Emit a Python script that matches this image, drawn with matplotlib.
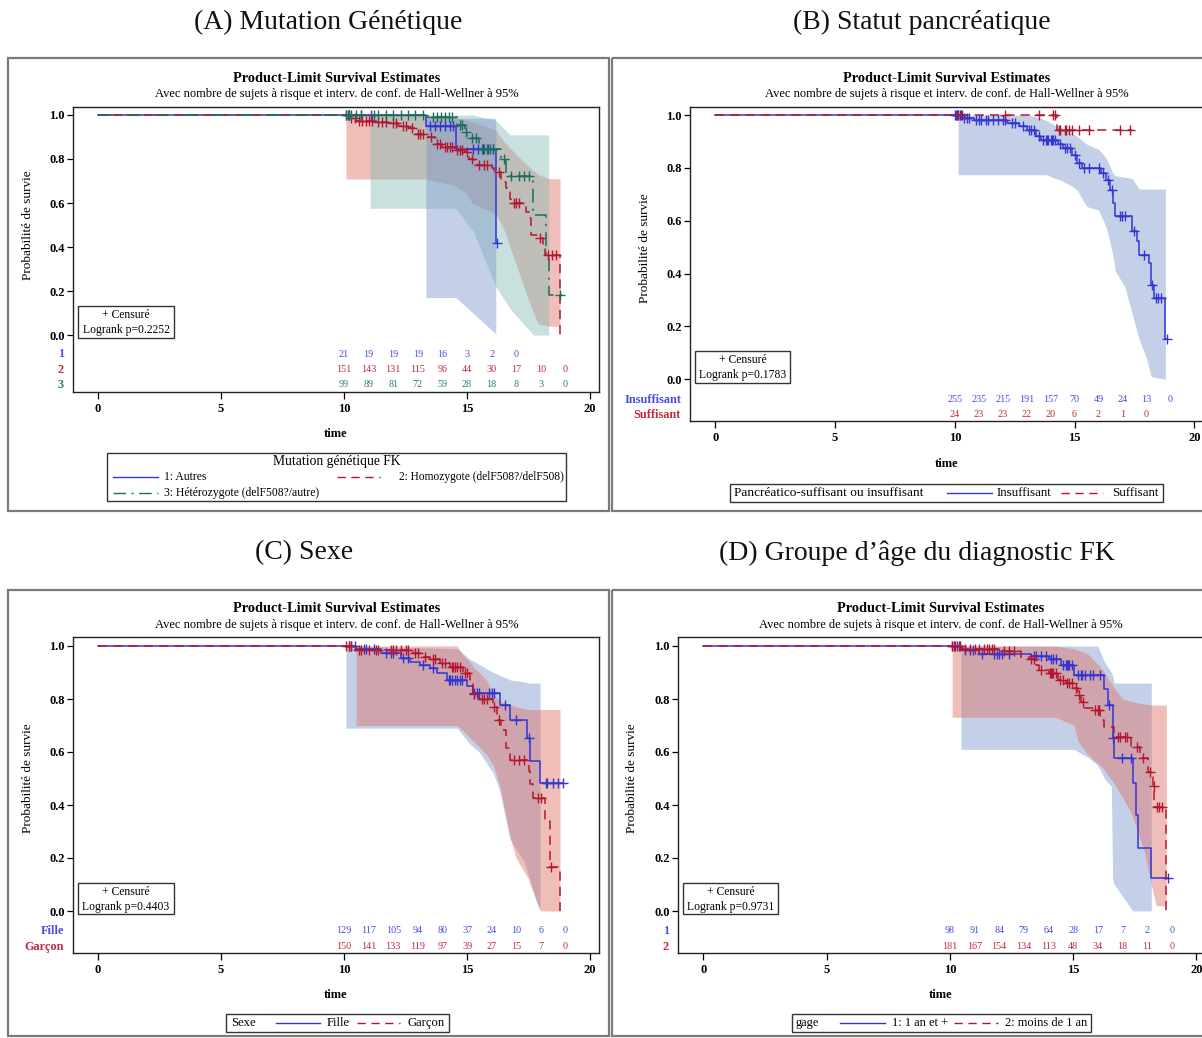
import numpy as np
import matplotlib
matplotlib.use("Agg")
import matplotlib.pyplot as plt
from matplotlib.patches import Rectangle
from matplotlib.lines import Line2D
from matplotlib.ticker import FormatStrFormatter

plt.rcParams['font.family'] = ['Liberation Serif', 'DejaVu Serif']

W, H = 1202, 1038

# ---------------------------------------------------------------- data
risk_times = [10, 11, 12, 13, 14, 15, 16, 17, 18, 19]

# (A) Mutation genetique
A1_step_t = [13.33, 14.55, 16.17]
A1_step_s = [0.952, 0.845, 0.42]
A1_end = 16.2
A1_cens = [10.2, 10.7, 11.1, 13.5, 13.7, 13.9, 14.1, 14.3, 14.45, 15.25, 15.45, 15.65, 15.85, 16.05, 16.2]
A1_band_t = [13.33, 14.55, 16.17]
A1_band_lo = [0.17, 0.17, 0.005]
A1_band_hi = [0.985, 0.985, 0.985]
A1_risk = [21, 19, 19, 19, 16, 3, 2, 0]

A2_step_t = [10.2, 10.5, 11.3, 11.8, 12.2, 12.6, 12.9, 13.4, 13.7, 14.0, 14.5, 14.9, 15.1, 15.3, 15.4,
             16.0, 16.1, 16.2, 16.4, 16.6, 16.7, 16.75, 16.8, 17.4, 17.5, 17.6, 17.9, 18.1, 18.17, 18.78]
A2_step_s = [0.985, 0.973, 0.967, 0.962, 0.95, 0.943, 0.915, 0.90, 0.87, 0.855, 0.84, 0.83, 0.80, 0.785, 0.773,
             0.76, 0.747, 0.74, 0.694, 0.667, 0.65, 0.62, 0.60, 0.56, 0.53, 0.455, 0.44, 0.41, 0.364, 0.0]
A2_end = 18.78
A2_cens = [10.1, 10.3, 10.45, 10.6, 10.75, 10.9, 11.0, 11.15, 11.4, 11.55, 11.7, 12.0, 12.1, 12.4, 12.5,
           12.75, 13.0, 13.1, 13.2, 13.55, 13.8, 13.9, 14.1, 14.2, 14.3, 14.4, 14.6, 14.7, 14.8, 15.0,
           15.2, 15.5, 15.7, 15.8, 16.3, 16.9, 17.0, 17.1, 17.95, 18.3, 18.45, 18.6]
A2_band_t = [10.08, 13.33, 14.5, 15.0, 15.2, 16.17, 16.5, 17.0, 17.56, 17.9, 18.32, 18.78]
A2_band_lo = [0.709, 0.709, 0.68, 0.64, 0.60, 0.55, 0.48, 0.32, 0.14, 0.05, 0.04, 0.04]
A2_band_hi = [1.0, 1.0, 0.99, 0.975, 0.97, 0.93, 0.88, 0.82, 0.76, 0.73, 0.71, 0.71]
A2_risk = [151, 143, 131, 115, 96, 44, 30, 17, 10, 0]

A3_step_t = [13.33, 14.6, 14.9, 15.0, 15.5, 16.4, 16.6, 17.7, 18.2, 18.32]
A3_step_s = [0.99, 0.955, 0.924, 0.894, 0.844, 0.798, 0.723, 0.545, 0.364, 0.182]
A3_end = 18.85
A3_cens = [10.1, 10.15, 10.2, 10.3, 10.5, 10.7, 11.2, 11.4, 11.7, 12.0, 12.3, 12.6, 12.9, 13.2, 13.6,
           13.8, 13.95, 14.1, 14.25, 14.4, 14.7, 14.8, 14.95, 15.2, 15.35, 15.6, 15.7, 15.8, 15.95, 16.05,
           16.5, 16.8, 17.1, 17.3, 17.5, 18.8]
A3_band_t = [11.06, 14.55, 15.26, 16.17, 16.75, 17.7, 18.32]
A3_band_lo = [0.576, 0.576, 0.47, 0.22, 0.12, 0.0, 0.0]
A3_band_hi = [1.0, 1.0, 1.0, 0.975, 0.91, 0.91, 0.91]
A3_risk = [99, 89, 81, 72, 59, 28, 18, 8, 3, 0]

# (B) Statut pancreatique
B1_step_t = [10.3, 10.8, 12.2, 12.7, 13.0, 13.4, 13.6, 14.3, 14.5, 14.9, 15.1, 15.3, 16.1, 16.3, 16.5,
             16.6, 16.7, 17.4, 17.6, 17.7, 18.1, 18.2, 18.33, 18.79]
B1_step_s = [0.99, 0.98, 0.97, 0.96, 0.945, 0.92, 0.906, 0.89, 0.875, 0.85, 0.82, 0.80, 0.78, 0.755, 0.717,
             0.667, 0.619, 0.56, 0.522, 0.472, 0.44, 0.358, 0.308, 0.153]
B1_end = 18.85
B1_cens = [10.0, 10.05, 10.1, 10.15, 10.2, 10.25, 10.4, 10.5, 10.6, 10.9, 11.0, 11.1, 11.3, 11.4, 11.6,
           11.8, 12.0, 12.1, 12.4, 12.5, 12.85, 13.1, 13.2, 13.3, 13.5, 13.7, 13.8, 13.85, 13.9, 14.0,
           14.05, 14.1, 14.2, 14.4, 14.6, 14.7, 14.8, 15.0, 15.2, 15.4, 15.6, 16.0, 16.2, 16.4, 16.55,
           16.9, 17.0, 17.1, 17.5, 17.9, 18.25, 18.4, 18.5, 18.6, 18.85]
B1_band_t = [10.14, 13.0, 13.5, 13.8, 14.2, 14.5, 14.9, 15.1, 15.5, 16.0, 16.3, 16.4, 16.6, 16.7, 17.1,
             17.4, 17.7, 18.0, 18.2, 18.79]
B1_band_lo = [0.774, 0.774, 0.774, 0.774, 0.76, 0.75, 0.73, 0.717, 0.654, 0.64, 0.58, 0.55, 0.47, 0.41,
              0.35, 0.25, 0.15, 0.08, 0.01, 0.0]
B1_band_hi = [1.0, 1.0, 0.99, 0.98, 0.96, 0.95, 0.93, 0.92, 0.89, 0.87, 0.84, 0.82, 0.78, 0.77, 0.765,
              0.76, 0.72, 0.72, 0.72, 0.72]
B1_risk = [255, 235, 215, 191, 157, 70, 49, 24, 13, 0]

B2_step_t = [14.27]
B2_step_s = [0.945]
B2_end = 17.4
B2_cens = [10.15, 10.3, 12.1, 13.5, 14.1, 14.2, 14.35, 14.4, 14.6, 14.65, 14.75, 14.9, 15.2, 15.6, 16.9, 17.3]
B2_risk = [24, 23, 23, 22, 20, 6, 2, 1, 0]

# (C) Sexe
C1_step_t = [10.5, 11.5, 12.3, 12.7, 13.1, 13.5, 13.8, 14.2, 15.0, 15.26, 16.34, 16.75, 17.42, 17.56, 17.97]
C1_step_s = [0.99, 0.972, 0.953, 0.94, 0.93, 0.916, 0.90, 0.872, 0.85, 0.821, 0.777, 0.721, 0.652, 0.566, 0.484]
C1_end = 18.92
C1_cens = [10.2, 10.3, 10.45, 10.8, 10.9, 11.2, 11.7, 11.9, 12.0, 12.4, 12.6, 13.2, 13.6, 14.25, 14.3,
           14.4, 14.5, 14.6, 14.7, 14.8, 15.3, 15.4, 15.5, 15.9, 16.0, 16.1, 16.55, 17.0, 17.5, 18.2,
           18.25, 18.5, 18.7, 18.9]
C1_band_t = [10.08, 14.6, 15.12, 15.5, 16.07, 16.34, 16.75, 17.3, 17.56, 17.8, 17.97]
C1_band_lo = [0.69, 0.69, 0.63, 0.60, 0.52, 0.45, 0.27, 0.19, 0.12, 0.04, 0.0]
C1_band_hi = [1.0, 0.99, 0.95, 0.93, 0.90, 0.89, 0.872, 0.865, 0.86, 0.86, 0.86]
C1_risk = [129, 117, 105, 94, 80, 37, 24, 10, 6, 0]

C2_step_t = [10.4, 12.8, 13.2, 13.5, 13.9, 14.3, 14.85, 15.12, 15.26, 15.5, 16.07, 16.2, 16.4, 16.6, 16.75,
             17.5, 17.56, 17.7, 18.17, 18.37, 18.78]
C2_step_s = [0.985, 0.972, 0.96, 0.95, 0.935, 0.92, 0.897, 0.86, 0.82, 0.80, 0.77, 0.72, 0.683, 0.615, 0.57,
             0.53, 0.48, 0.425, 0.34, 0.167, 0.0]
C2_end = 18.78
C2_cens = [10.1, 10.2, 10.3, 10.6, 10.7, 11.0, 11.3, 11.4, 11.9, 12.0, 12.1, 12.3, 12.5, 12.6, 12.9,
           13.0, 13.3, 13.6, 13.7, 14.0, 14.1, 14.4, 14.45, 14.5, 14.6, 14.7, 14.9, 15.0, 15.3, 15.6,
           15.7, 15.8, 16.1, 16.3, 16.9, 17.1, 17.3, 17.9, 18.0, 18.4]
C2_band_t = [10.49, 14.6, 14.85, 15.12, 15.26, 15.5, 15.8, 16.07, 16.34, 16.75, 17.0, 17.5, 17.56, 18.0, 18.78]
C2_band_lo = [0.70, 0.70, 0.68, 0.655, 0.64, 0.62, 0.59, 0.55, 0.47, 0.28, 0.20, 0.12, 0.10, 0.0, 0.0]
C2_band_hi = [1.0, 1.0, 0.965, 0.94, 0.92, 0.90, 0.87, 0.82, 0.79, 0.78, 0.77, 0.76, 0.76, 0.76, 0.76]
C2_risk = [150, 141, 133, 119, 97, 39, 27, 15, 7, 0]

# (D) Groupe d'age du diagnostic
D1_step_t = [10.5, 11.2, 13.3, 14.0, 14.5, 15.04, 16.27, 16.4, 16.6, 16.65, 17.42, 17.56, 17.62, 18.17]
D1_step_s = [0.985, 0.97, 0.962, 0.95, 0.928, 0.89, 0.836, 0.777, 0.652, 0.576, 0.482, 0.362, 0.237, 0.123]
D1_end = 18.85
D1_cens = [10.1, 10.2, 10.35, 10.6, 10.8, 10.95, 11.3, 11.8, 11.9, 12.0, 12.1, 12.4, 13.4, 13.5, 13.7,
           13.9, 14.1, 14.2, 14.3, 14.6, 14.7, 14.75, 14.8, 14.85, 14.95, 15.2, 15.3, 15.35, 15.5, 15.7,
           15.8, 16.1, 16.45, 16.62, 17.0, 17.35, 18.85]
D1_band_t = [10.45, 15.04, 15.6, 16.0, 16.27, 16.55, 16.6, 16.67, 17.42, 18.17]
D1_band_lo = [0.61, 0.61, 0.58, 0.55, 0.50, 0.47, 0.12, 0.10, 0.0, 0.0]
D1_band_hi = [1.0, 1.0, 1.0, 1.0, 0.94, 0.90, 0.89, 0.86, 0.86, 0.86]
D1_risk = [98, 91, 84, 79, 64, 28, 17, 7, 2, 0]

D2_step_t = [10.5, 12.0, 12.9, 13.2, 13.5, 13.6, 14.0, 14.4, 14.7, 15.04, 15.18, 15.3, 15.45, 15.85, 16.1,
             16.27, 16.67, 17.35, 17.7, 18.05, 18.25, 18.3, 18.78]
D2_step_s = [0.99, 0.98, 0.96, 0.95, 0.93, 0.91, 0.897, 0.87, 0.859, 0.84, 0.815, 0.79, 0.765, 0.758, 0.721,
             0.696, 0.658, 0.62, 0.576, 0.525, 0.47, 0.394, 0.0]
D2_end = 18.78
D2_cens = [10.1, 10.15, 10.3, 10.4, 10.6, 10.8, 11.0, 11.2, 11.4, 11.5, 11.6, 11.7, 11.8, 12.2, 12.4,
           12.6, 13.3, 13.4, 13.7, 14.05, 14.1, 14.15, 14.2, 14.3, 14.45, 14.6, 14.75, 14.85, 14.95, 15.1,
           15.22, 15.4, 15.9, 16.0, 16.05, 16.8, 16.9, 17.1, 17.2, 17.6, 17.85, 18.1, 18.28, 18.4, 18.5, 18.6]
D2_band_t = [10.09, 14.3, 15.04, 15.2, 15.6, 16.2, 16.6, 17.0, 17.4, 17.9, 18.17, 18.37, 18.78]
D2_band_lo = [0.731, 0.731, 0.70, 0.64, 0.59, 0.54, 0.49, 0.43, 0.36, 0.22, 0.10, 0.02, 0.02]
D2_band_hi = [1.0, 1.0, 0.99, 0.985, 0.97, 0.91, 0.85, 0.80, 0.79, 0.78, 0.777, 0.777, 0.777]
D2_risk = [181, 167, 154, 134, 113, 48, 34, 18, 11, 0]

# ---------------------------------------------------------------- styles
BLUE, RED, TEAL = '#3535d2', '#b3172f', '#1b6e5c'
BLUE_T, RED_T, TEAL_T = '#4a4ae6', '#c4283c', '#2b7f70'
BLUE_F, RED_F, TEAL_F = '#7c97cc', '#de6f63', '#85bcb6'
DASH = (0, (6, 4))
DASHDOT = (0, (9, 4, 1.5, 4))

fig = plt.figure(figsize=(W / 100, H / 100), dpi=100)


def make_axes(box, x0px, ppt, y1px, y0px):
    left, top, right, bottom = box
    ax = fig.add_axes([left / W, 1 - bottom / H, (right - left) / W, (bottom - top) / H])
    pps = y0px - y1px
    ax.set_xlim((left - x0px) / ppt, (right - x0px) / ppt)
    ax.set_ylim((y0px - bottom) / pps, (y0px - top) / pps)
    ax.set_xticks([0, 5, 10, 15, 20])
    ax.set_yticks([0.0, 0.2, 0.4, 0.6, 0.8, 1.0])
    ax.yaxis.set_major_formatter(FormatStrFormatter('%.1f'))
    ax.tick_params(axis='x', direction='out', length=5, width=0.9, labelsize=9, pad=3)
    ax.tick_params(axis='y', direction='out', length=4, width=0.9, labelsize=9, pad=2)
    for lab in ax.get_xticklabels() + ax.get_yticklabels():
        lab.set_fontweight('bold')
    for sp in ax.spines.values():
        sp.set_linewidth(1.0)
        sp.set_color('#222222')
    return ax


def surv_at(step_t, step_s, x):
    s_all = np.concatenate([[1.0], step_s])
    return s_all[np.searchsorted(step_t, x, side='right')]


def draw_curve(ax, step_t, step_s, end_t, cens, color, ls):
    t = np.concatenate([[0.0], step_t, [end_t]])
    s = np.concatenate([[1.0], step_s, [step_s[-1]]])
    ax.step(t, s, where='post', color=color, lw=1.1, linestyle=ls, zorder=4)
    ax.plot(cens, surv_at(np.array(step_t), np.array(step_s), np.array(cens)), linestyle='none',
            marker='+', ms=7, mew=1.0, color=color, zorder=5)


def draw_band(ax, bt, lo, hi, color):
    ax.fill_between(bt, lo, hi, color=color, alpha=0.45, lw=0, zorder=2)


def draw_risk(ax, counts, yrow, color, label, label_color):
    for tt, n in zip(risk_times, counts):
        ax.text(tt, yrow, str(n), ha='center', va='center', fontsize=7.3, color=color, zorder=6)
    ax.annotate(label, xy=(0, yrow), xycoords=('axes fraction', 'data'), xytext=(-6.5, 0),
                textcoords='offset points', ha='right', va='center', fontsize=8.8,
                fontweight='bold', color=label_color, annotation_clip=False)


# ---------------------------------------------------------------- panel A
axA = make_axes((73, 107, 599, 392), 98, 24.6, 115, 335)
draw_band(axA, A2_band_t, A2_band_lo, A2_band_hi, RED_F)
draw_band(axA, A3_band_t, A3_band_lo, A3_band_hi, TEAL_F)
draw_band(axA, A1_band_t, A1_band_lo, A1_band_hi, BLUE_F)
draw_curve(axA, A1_step_t, A1_step_s, A1_end, A1_cens, BLUE, '-')
draw_curve(axA, A2_step_t, A2_step_s, A2_end, A2_cens, RED, DASH)
draw_curve(axA, A3_step_t, A3_step_s, A3_end, A3_cens, TEAL, DASHDOT)
draw_risk(axA, A1_risk, -0.088, BLUE_T, '1', BLUE_T)
draw_risk(axA, A2_risk, -0.159, RED_T, '2', RED_T)
draw_risk(axA, A3_risk, -0.227, TEAL_T, '3', TEAL_T)

# ---------------------------------------------------------------- panel B
axB = make_axes((690, 107, 1203, 421), 715.3, 23.95, 115, 379.3)
draw_band(axB, B1_band_t, B1_band_lo, B1_band_hi, BLUE_F)
draw_curve(axB, B1_step_t, B1_step_s, B1_end, B1_cens, BLUE, '-')
draw_curve(axB, B2_step_t, B2_step_s, B2_end, B2_cens, RED, DASH)
draw_risk(axB, B1_risk, -0.078, BLUE_T, 'Insuffisant', BLUE_T)
draw_risk(axB, B2_risk, -0.135, RED_T, 'Suffisant', RED_T)

# ---------------------------------------------------------------- panel C
axC = make_axes((73, 637, 599, 953), 98, 24.6, 646, 911)
draw_band(axC, C1_band_t, C1_band_lo, C1_band_hi, BLUE_F)
draw_band(axC, C2_band_t, C2_band_lo, C2_band_hi, RED_F)
draw_curve(axC, C1_step_t, C1_step_s, C1_end, C1_cens, BLUE, '-')
draw_curve(axC, C2_step_t, C2_step_s, C2_end, C2_cens, RED, DASH)
draw_risk(axC, C1_risk, -0.075, BLUE_T, 'Fille', BLUE_T)
draw_risk(axC, C2_risk, -0.135, RED_T, 'Garçon', RED_T)

# ---------------------------------------------------------------- panel D
axD = make_axes((678, 637, 1204, 953), 703.4, 24.65, 646, 911)
draw_band(axD, D1_band_t, D1_band_lo, D1_band_hi, BLUE_F)
draw_band(axD, D2_band_t, D2_band_lo, D2_band_hi, RED_F)
draw_curve(axD, D1_step_t, D1_step_s, D1_end, D1_cens, BLUE, '-')
draw_curve(axD, D2_step_t, D2_step_s, D2_end, D2_cens, RED, DASH)
draw_risk(axD, D1_risk, -0.075, BLUE_T, '1', BLUE_T)
draw_risk(axD, D2_risk, -0.135, RED_T, '2', RED_T)

# ---------------------------------------------------------------- frames, titles, legends (pixel space)
ov = fig.add_axes([0, 0, 1, 1])
ov.set_xlim(0, W)
ov.set_ylim(H, 0)
ov.axis('off')
ov.patch.set_alpha(0)

panel_titles = ["(A) Mutation Génétique", "(B) Statut pancréatique", "(C) Sexe",
                "(D) Groupe d’âge du diagnostic FK"]
title_pos = [(328, 22), (922, 22), (304, 553), (917, 553)]
for txt, (x, y) in zip(panel_titles, title_pos):
    ov.text(x, y, txt, ha='center', va='center', fontsize=20, color='#111111')

frames = [(8, 58, 601, 453), (612, 58, 600, 453), (8, 590, 601, 446), (612, 590, 600, 446)]
for (x, y, w, h) in frames:
    ov.add_patch(Rectangle((x, y), w, h, fill=False, ec='#7a7a7a', lw=1.6))

header = "Product-Limit Survival Estimates"
subheader = "Avec nombre de sujets à risque et interv. de conf. de Hall-Wellner à 95%"
for cx, y0 in [(337, 78), (946.5, 78), (337, 609), (941, 609)]:
    ov.text(cx, y0, header, ha='center', va='center', fontsize=10.3, fontweight='bold')
    ov.text(cx, y0 + 16, subheader, ha='center', va='center', fontsize=9)

for x, y in [(336, 434), (946.5, 464), (336, 995), (941, 995)]:
    ov.text(x, y, 'time', ha='center', va='center', fontsize=9, fontweight='bold')
for x, y in [(28, 225), (645, 248), (28, 778), (632, 778)]:
    ov.text(x, y, 'Probabilité de survie', ha='center', va='center', rotation=90, fontsize=9.5)

logrank = ["Logrank p=0.2252", "Logrank p=0.1783", "Logrank p=0.4403", "Logrank p=0.9731"]
cens_boxes = [(78, 306, 96, 32), (695, 351, 95, 32), (78, 883, 96, 31), (683, 883, 95, 31)]
for txt, (x, y, w, h) in zip(logrank, cens_boxes):
    ov.add_patch(Rectangle((x, y), w, h, fc='white', ec='#333333', lw=1.0))
    ov.text(x + w / 2, y + 9, '+ Censuré', ha='center', va='center', fontsize=8.4)
    ov.text(x + w / 2, y + 24, txt, ha='center', va='center', fontsize=8.4)


def legend_line(x0, x1, y, color, ls):
    ov.add_line(Line2D([x0, x1], [y, y], color=color, lw=1.0, linestyle=ls))


def legend_text(x, y, txt, size):
    ov.text(x, y, txt, ha='left', va='center', fontsize=size)


# legend A
ov.add_patch(Rectangle((107, 453), 459, 48, fill=False, ec='#333333', lw=1.0))
ov.text(337, 462, 'Mutation génétique FK', ha='center', va='center', fontsize=9.8)
legend_line(113, 158, 477, BLUE, '-')
legend_text(164, 477, '1: Autres', 8.4)
legend_line(337, 380, 477, RED, DASH)
legend_text(399, 477, '2: Homozygote (delF508?/delF508)', 8.3)
legend_line(113, 158, 493, TEAL, DASHDOT)
legend_text(164, 493, '3: Hétérozygote (delF508?/autre)', 8.4)

# legend B
ov.add_patch(Rectangle((730, 484), 433, 18, fill=False, ec='#333333', lw=1.0))
legend_text(734, 493, 'Pancréatico-suffisant ou insuffisant', 9.6)
legend_line(947, 992, 493, BLUE, '-')
legend_text(997, 493, 'Insuffisant', 9.4)
legend_line(1061, 1103, 493, RED, DASH)
legend_text(1112, 493, 'Suffisant', 9.4)

# legend C
ov.add_patch(Rectangle((225.5, 1014), 223.5, 18, fill=False, ec='#333333', lw=1.0))
legend_text(231, 1023, 'Sexe', 9.1)
legend_line(276, 320, 1023, BLUE, '-')
legend_text(327, 1023, 'Fille', 9.1)
legend_line(357, 400, 1023, RED, DASH)
legend_text(408, 1023, 'Garçon', 9.1)

# legend D
ov.add_patch(Rectangle((791.5, 1014), 299.5, 18, fill=False, ec='#333333', lw=1.0))
legend_text(796, 1023, 'gage', 8.9)
legend_line(840, 885, 1023, BLUE, '-')
legend_text(892, 1023, '1: 1 an et +', 8.9)
legend_line(954, 998, 1023, RED, DASH)
legend_text(1005, 1023, '2: moins de 1 an', 8.9)

fig.savefig('out.png', dpi=100)
